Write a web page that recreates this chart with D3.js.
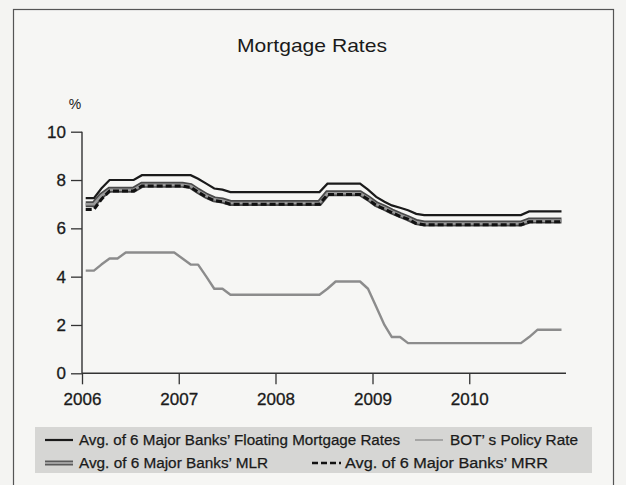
<!DOCTYPE html>
<html>
<head>
<meta charset="utf-8">
<script src="https://cdn.jsdelivr.net/npm/d3@7"></script>
<style>
  html, body { margin: 0; padding: 0; background: #f4f4f2; }
  svg { display: block; }
  text { font-family: "Liberation Sans", Arial, sans-serif; fill: #1a1a1a; }
</style>
</head>
<body>
<svg id="chart" width="626" height="485"></svg>
<script>
// Monthly observations, Jan 2006 – Dec 2010 (percent)
const months = d3.range(60).map(i => new Date(2006, i, 15));

const floatingRate = [
  7.25, 7.25, 7.65, 8.0, 8.0, 8.0, 8.0, 8.2, 8.2, 8.2, 8.2, 8.2,
  8.2, 8.2, 8.05, 7.85, 7.65, 7.6, 7.5, 7.5, 7.5, 7.5, 7.5, 7.5,
  7.5, 7.5, 7.5, 7.5, 7.5, 7.5, 7.85, 7.85, 7.85, 7.85, 7.85, 7.6,
  7.3, 7.1, 6.95, 6.85, 6.75, 6.6, 6.55, 6.55, 6.55, 6.55, 6.55, 6.55,
  6.55, 6.55, 6.55, 6.55, 6.55, 6.55, 6.55, 6.7, 6.7, 6.7, 6.7, 6.7
];

const mlr = [
  7.0, 7.0, 7.35, 7.6, 7.6, 7.6, 7.6, 7.8, 7.8, 7.8, 7.8, 7.8,
  7.8, 7.75, 7.55, 7.35, 7.2, 7.15, 7.05, 7.05, 7.05, 7.05, 7.05, 7.05,
  7.05, 7.05, 7.05, 7.05, 7.05, 7.05, 7.45, 7.45, 7.45, 7.45, 7.45, 7.25,
  7.0, 6.85, 6.7, 6.55, 6.42, 6.26, 6.2, 6.2, 6.2, 6.2, 6.2, 6.2,
  6.2, 6.2, 6.2, 6.2, 6.2, 6.2, 6.2, 6.32, 6.32, 6.32, 6.32, 6.32
];

const mrr = [
  6.78, 6.78, 7.2, 7.55, 7.55, 7.55, 7.55, 7.75, 7.75, 7.75, 7.75, 7.75,
  7.75, 7.7, 7.5, 7.3, 7.15, 7.1, 7.0, 7.0, 7.0, 7.0, 7.0, 7.0,
  7.0, 7.0, 7.0, 7.0, 7.0, 7.0, 7.4, 7.4, 7.4, 7.4, 7.4, 7.2,
  6.95, 6.8, 6.65, 6.5, 6.38, 6.2, 6.15, 6.15, 6.15, 6.15, 6.15, 6.15,
  6.15, 6.15, 6.15, 6.15, 6.15, 6.15, 6.15, 6.27, 6.27, 6.27, 6.27, 6.27
];

const policyRate = [
  4.25, 4.25, 4.5, 4.75, 4.75, 5.0, 5.0, 5.0, 5.0, 5.0, 5.0, 5.0,
  4.75, 4.5, 4.5, 4.0, 3.5, 3.5, 3.25, 3.25, 3.25, 3.25, 3.25, 3.25,
  3.25, 3.25, 3.25, 3.25, 3.25, 3.25, 3.5, 3.8, 3.8, 3.8, 3.8, 3.5,
  2.75, 2.0, 1.5, 1.5, 1.25, 1.25, 1.25, 1.25, 1.25, 1.25, 1.25, 1.25,
  1.25, 1.25, 1.25, 1.25, 1.25, 1.25, 1.25, 1.5, 1.8, 1.8, 1.8, 1.8
];

const yTicks = [0, 2, 4, 6, 8, 10];
const xTickYears = [2006, 2007, 2008, 2009, 2010];

const legendLabels = [
  "Avg. of 6 Major Banks\u2019 Floating Mortgage Rates",
  "BOT\u2019 s Policy Rate",
  "Avg. of 6 Major Banks\u2019 MLR",
  "Avg. of 6 Major Banks\u2019 MRR"
];

const svg = d3.select("#chart");

// outer frame
svg.append("rect")
  .attr("x", 13.5).attr("y", 9.5)
  .attr("width", 600).attr("height", 490)
  .attr("fill", "#f6f6f4").attr("stroke", "#555").attr("stroke-width", 1.2);

svg.append("text")
  .attr("x", 312).attr("y", 52)
  .attr("text-anchor", "middle")
  .attr("textLength", 150)
  .attr("lengthAdjust", "spacingAndGlyphs")
  .style("font-size", "19px")
  .text("Mortgage Rates");

const x = d3.scaleTime()
  .domain([new Date(2006, 0, 1), new Date(2011, 0, 1)])
  .range([82, 566]);
const y = d3.scaleLinear().domain([0, 10]).range([373.3, 131.7]);

// y axis
const yAxis = svg.append("g")
  .attr("transform", "translate(82,0)")
  .call(d3.axisLeft(y).tickValues(yTicks).tickSize(11).tickPadding(5).tickFormat(d3.format("d")));
// x axis
const xAxis = svg.append("g")
  .attr("transform", "translate(0,373.3)")
  .call(d3.axisBottom(x)
    .tickValues(xTickYears.map(yr => new Date(yr, 0, 1)))
    .tickSize(11).tickPadding(9)
    .tickFormat(d3.timeFormat("%Y")));

[yAxis, xAxis].forEach(g => {
  g.select(".domain").attr("stroke", "#333").attr("stroke-width", 1.4);
  g.selectAll(".tick line").attr("stroke", "#333").attr("stroke-width", 1.3);
  g.selectAll(".tick text")
    .style("font-size", "17px")
    .style("font-family", "'Liberation Sans', Arial, sans-serif")
    .attr("fill", "#1a1a1a")
    .attr("stroke", "#1a1a1a").attr("stroke-width", 0.3);
});
yAxis.select(".domain").attr("d", `M0,${y(10)}V${y(0)}`);
xAxis.select(".domain").attr("d", `M${x.range()[0]},0H${x.range()[1]}`);

svg.append("text")
  .attr("x", 75).attr("y", 109)
  .attr("text-anchor", "middle")
  .style("font-size", "14px")
  .text("%");

const line = d3.line()
  .x((d, i) => x(months[i]))
  .y(d => y(d));

// BOT policy rate
svg.append("path").datum(policyRate)
  .attr("d", line).attr("fill", "none")
  .attr("stroke", "#8c8c8c").attr("stroke-width", 2.4)
  .attr("stroke-linejoin", "round");

// MLR: grey band with darker edges
svg.append("path").datum(mlr)
  .attr("d", line).attr("fill", "none")
  .attr("stroke", "#4a4a4a").attr("stroke-width", 6);
svg.append("path").datum(mlr)
  .attr("d", line).attr("fill", "none")
  .attr("stroke", "#9a9a9a").attr("stroke-width", 2.6);

// MRR dashed
svg.append("path").datum(mrr)
  .attr("d", line).attr("fill", "none")
  .attr("stroke", "#111").attr("stroke-width", 3)
  .attr("stroke-dasharray", "6,3");

// floating mortgage rate
svg.append("path").datum(floatingRate)
  .attr("d", line).attr("fill", "none")
  .attr("stroke", "#1a1a1a").attr("stroke-width", 2.2);

// legend
const lg = svg.append("g");
lg.append("rect")
  .attr("x", 35).attr("y", 427)
  .attr("width", 557).attr("height", 46)
  .attr("fill", "#d6d6d4");

const rows = [440, 463];
// floating
lg.append("line").attr("x1", 45).attr("x2", 73).attr("y1", rows[0]).attr("y2", rows[0])
  .attr("stroke", "#1a1a1a").attr("stroke-width", 2.2);
// policy
lg.append("line").attr("x1", 415).attr("x2", 443).attr("y1", rows[0]).attr("y2", rows[0])
  .attr("stroke", "#9a9a9a").attr("stroke-width", 1.6);
// MLR
lg.append("line").attr("x1", 45).attr("x2", 73).attr("y1", rows[1]).attr("y2", rows[1])
  .attr("stroke", "#5a5a5a").attr("stroke-width", 5);
lg.append("line").attr("x1", 45).attr("x2", 73).attr("y1", rows[1]).attr("y2", rows[1])
  .attr("stroke", "#a0a0a0").attr("stroke-width", 2);
// MRR
lg.append("line").attr("x1", 312).attr("x2", 341).attr("y1", rows[1]).attr("y2", rows[1])
  .attr("stroke", "#111").attr("stroke-width", 2.6).attr("stroke-dasharray", "6,3");

const legendText = [
  { x: 79, y: rows[0], w: 321, t: legendLabels[0] },
  { x: 450, y: rows[0], w: 128, t: legendLabels[1] },
  { x: 79, y: rows[1], w: 189, t: legendLabels[2] },
  { x: 345, y: rows[1], w: 203, t: legendLabels[3] }
];
lg.selectAll("text.lt").data(legendText).join("text")
  .attr("class", "lt")
  .attr("x", d => d.x).attr("y", d => d.y + 5)
  .attr("textLength", d => d.w)
  .attr("lengthAdjust", "spacingAndGlyphs")
  .attr("stroke", "#1a1a1a").attr("stroke-width", 0.25)
  .style("font-size", "14px")
  .text(d => d.t);
</script>
</body>
</html>
